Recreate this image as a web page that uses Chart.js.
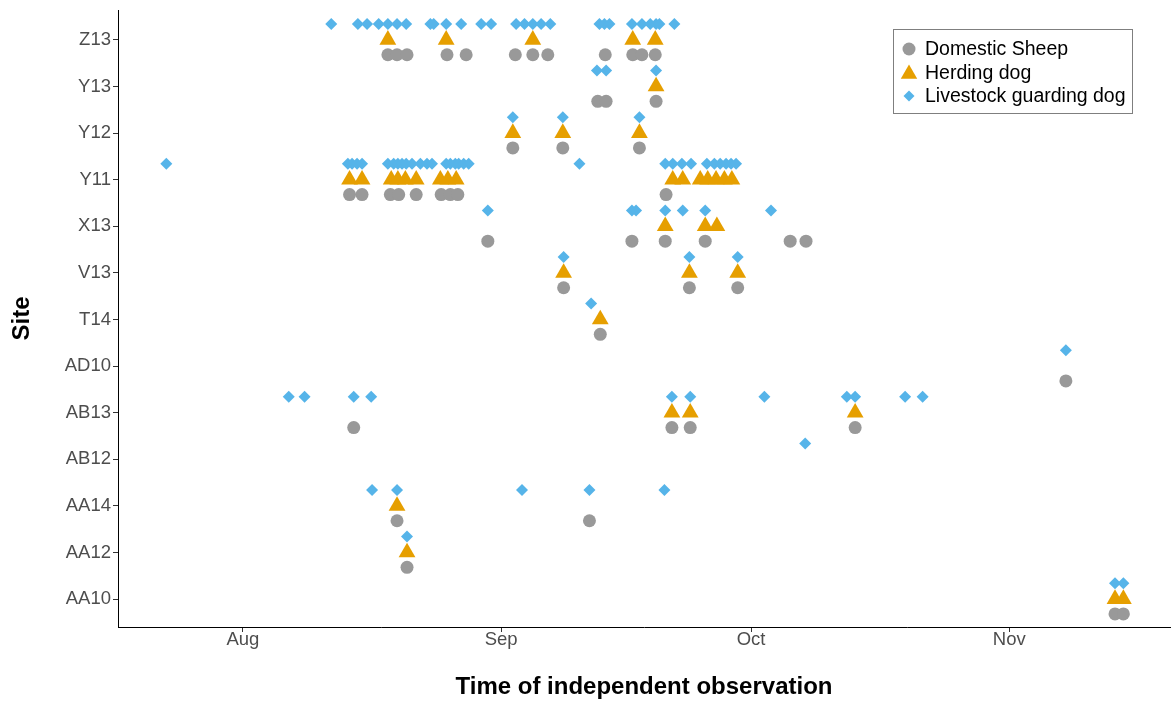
<!DOCTYPE html>
<html>
<head>
<meta charset="utf-8">
<script src="https://cdn.jsdelivr.net/npm/chart.js@4/dist/chart.umd.min.js"></script>
<style>
  html, body { margin: 0; padding: 0; background: #fff; }
</style>
</head>
<body>
<canvas id="site-chart" width="1173" height="704"></canvas>
<script>
// sites, bottom to top
var sites = ['AA10', 'AA12', 'AA14', 'AB12', 'AB13', 'AD10', 'T14', 'V13', 'X13', 'Y11', 'Y12', 'Y13', 'Z13'];

// x values are days since 1 Aug
var monthTicks = [0, 31, 61, 92];
var monthLabels = ['Aug', 'Sep', 'Oct', 'Nov'];

var sheepDays = {
  Z13: [17.4, 18.5, 19.7, 24.5, 26.8, 32.7, 34.8, 36.6, 43.5, 46.8, 47.9, 49.5],
  Y13: [42.6, 43.6, 49.6],
  Y12: [32.4, 38.4, 47.6],
  Y11: [12.8, 14.3, 17.7, 18.7, 20.8, 23.8, 24.9, 25.8, 50.8],
  X13: [29.4, 46.7, 50.7, 55.5, 65.7, 67.6],
  V13: [38.5, 53.6, 59.4],
  T14: [42.9],
  AD10: [98.8],
  AB13: [13.3, 51.5, 53.7, 73.5],
  AA14: [18.5, 41.6],
  AA12: [19.7],
  AA10: [104.7, 105.7]
};

var herdingDays = {
  Z13: [17.4, 24.4, 34.8, 46.8, 49.5],
  Y13: [49.6],
  Y12: [32.4, 38.4, 47.6],
  Y11: [12.8, 14.3, 17.8, 18.6, 19.5, 20.8, 23.7, 24.6, 25.6, 51.6, 52.8, 54.9, 55.8, 56.8, 57.8, 58.7],
  X13: [50.7, 55.5, 56.9],
  V13: [38.5, 53.6, 59.4],
  T14: [42.9],
  AB13: [51.5, 53.7, 73.5],
  AA14: [18.5],
  AA12: [19.7],
  AA10: [104.7, 105.7]
};

var guardingDays = {
  Z13: [10.6, 13.8, 14.9, 16.3, 17.4, 18.5, 19.6, 22.5, 22.9, 24.4, 26.2, 28.6, 29.8, 32.8, 33.8, 34.8, 35.8, 36.9, 42.8, 43.4, 44.0, 46.7, 47.9, 48.9, 49.6, 50.0, 51.8],
  Y13: [42.5, 43.6, 49.6],
  Y12: [32.4, 38.4, 47.6],
  Y11: [-9.2, 12.6, 13.1, 13.7, 14.3, 17.4, 18.1, 18.6, 19.1, 19.6, 20.3, 21.3, 22.1, 22.7, 24.4, 24.9, 25.5, 25.9, 26.5, 27.1, 40.4, 50.7, 51.6, 52.7, 53.8, 55.7, 56.6, 57.3, 58.0, 58.6, 59.2],
  X13: [29.4, 46.7, 47.2, 50.7, 52.8, 55.5, 63.4],
  V13: [38.5, 53.6, 59.4],
  T14: [41.8],
  AD10: [98.8],
  AB13: [5.5, 7.4, 13.3, 15.4, 51.5, 53.7, 62.6, 72.5, 73.5, 79.5, 81.6],
  AB12: [67.5],
  AA14: [15.5, 18.5, 33.5, 41.6, 50.6],
  AA12: [19.7],
  AA10: [104.7, 105.7]
};

function toPoints(obs, nudge){
  var pts = [];
  for (var i = 0; i < sites.length; i++) {
    var days = obs[sites[i]] || [];
    for (var j = 0; j < days.length; j++) {
      pts.push({x: days[j], y: i + nudge});
    }
  }
  return pts;
}

// legend drawn inside the plot, top right
var insideLegend = {
  id: 'insideLegend',
  afterDraw: function(chart){
    var ctx = chart.ctx;
    var sizes = [6.5, 9.5, 5.5];
    ctx.save();
    ctx.fillStyle = '#fff';
    ctx.fillRect(893, 29, 239, 84);
    ctx.strokeStyle = '#7f7f7f';
    ctx.lineWidth = 1;
    ctx.strokeRect(893.5, 29.5, 239, 84);
    ctx.font = '19.5px "Liberation Sans", Arial, sans-serif';
    ctx.textBaseline = 'middle';
    chart.data.datasets.forEach(function(ds, i){
      var y = 49 + i * 23.5;
      ctx.fillStyle = ds.backgroundColor;
      Chart.helpers.drawPoint(ctx, {pointStyle: ds.pointStyle, radius: sizes[i], borderWidth: 0, rotation: 0}, 909, y + (i == 1 ? 1.5 : 0));
      ctx.fillStyle = '#000';
      ctx.fillText(ds.label, 925, y + 1);
    });
    ctx.restore();
  }
};

var tickFont = {family: '"Liberation Sans", Arial, sans-serif', size: 18.5};
var titleFont = {family: '"Liberation Sans", Arial, sans-serif', size: 24, weight: 'bold', lineHeight: 1};

var ctx = document.getElementById('site-chart').getContext('2d');
var chart = new Chart(ctx, {
  type: 'scatter',
  data: {
    datasets: [
      {
        label: 'Domestic Sheep',
        data: toPoints(sheepDays, -0.32),
        pointStyle: 'circle',
        radius: 6.5,
        backgroundColor: '#999999',
        borderWidth: 0
      },
      {
        label: 'Herding dog',
        data: toPoints(herdingDays, 0.0),
        pointStyle: 'triangle',
        radius: 9.7,
        backgroundColor: '#E69F00',
        borderWidth: 0
      },
      {
        label: 'Livestock guarding dog',
        data: toPoints(guardingDays, 0.34),
        pointStyle: 'rectRot',
        radius: 6,
        backgroundColor: '#56B4E9',
        borderWidth: 0,
        order: -1
      }
    ]
  },
  options: {
    responsive: false,
    animation: false,
    layout: {autoPadding: false, padding: {top: 10, right: 3, left: 0, bottom: 0}},
    plugins: {
      legend: {display: false},
      tooltip: {enabled: false}
    },
    scales: {
      x: {
        type: 'linear',
        min: -15,
        max: 111.3,
        afterBuildTicks: function(scale){
          scale.ticks = monthTicks.map(function(v){ return {value: v}; });
        },
        afterFit: function(scale){
          scale.height = 77;
          scale.paddingLeft = 0;
          scale.paddingRight = 0;
        },
        ticks: {
          callback: function(v){ return monthLabels[monthTicks.indexOf(v)]; },
          font: tickFont,
          color: '#4d4d4d',
          padding: -3,
          maxRotation: 0,
          autoSkip: false
        },
        grid: {drawOnChartArea: false, drawTicks: true, tickLength: 5, color: '#333'},
        border: {display: true, color: '#000', width: 1},
        title: {display: true, text: 'Time of independent observation', font: titleFont, color: '#000', padding: {top: 0, bottom: 5}}
      },
      y: {
        type: 'linear',
        min: -0.6,
        max: 12.64,
        afterBuildTicks: function(scale){
          scale.ticks = sites.map(function(s, i){ return {value: i}; });
        },
        afterFit: function(scale){
          scale.width = 118;
          scale.paddingTop = 0;
          scale.paddingBottom = 0;
        },
        ticks: {
          callback: function(v){ return sites[v]; },
          font: tickFont,
          color: '#4d4d4d',
          padding: 2,
          autoSkip: false
        },
        grid: {drawOnChartArea: false, drawTicks: true, tickLength: 5, color: '#333'},
        border: {display: true, color: '#000', width: 1},
        title: {display: true, text: 'Site', font: titleFont, color: '#000', padding: {top: 10, bottom: 0}}
      }
    }
  },
  plugins: [insideLegend]
});
</script>
</body>
</html>
